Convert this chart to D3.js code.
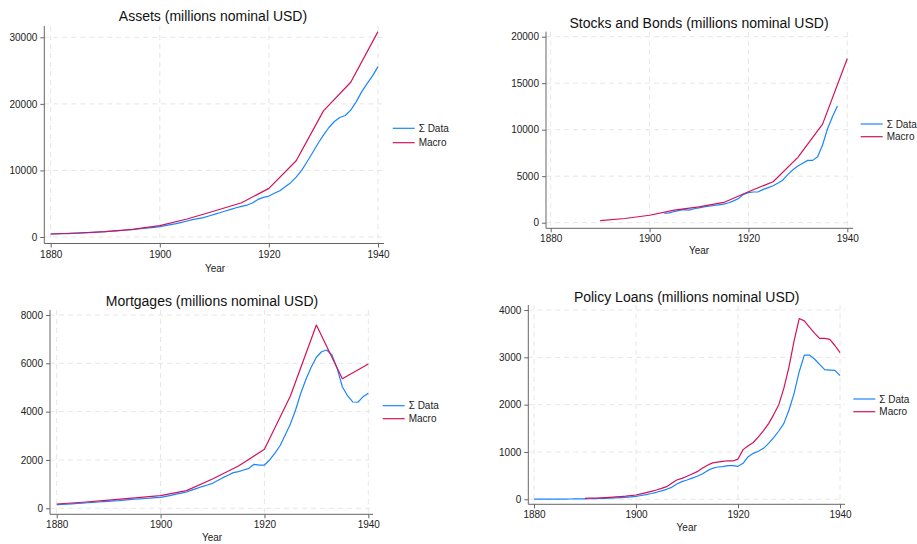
<!DOCTYPE html>
<html>
<head>
<meta charset="utf-8">
<script src="https://cdn.jsdelivr.net/npm/d3@7"></script>
<style>
  body { margin: 0; background: #fff; }
  svg { font-family: "Liberation Sans", Arial, Helvetica, sans-serif; }
  .grid line { stroke: #e6e6e6; stroke-dasharray: 5 4; }
</style>
</head>
<body>
<svg id="chart" width="917" height="544"></svg>
<script>
// Years
const yearsAll = d3.range(1880, 1941);
const years5 = d3.range(1880, 1941, 5);
const years5From1890 = d3.range(1890, 1941, 5);

// Assets (millions nominal USD)
const assetsData = [450, 470, 490, 520, 550, 580, 620, 660, 700, 750,
  800, 860, 920, 980, 1050, 1120, 1200, 1290, 1370, 1460,
  1560, 1700, 1850, 2000, 2200, 2400, 2600, 2750, 2900, 3150,
  3400, 3650, 3900, 4150, 4400, 4600, 4800, 5100, 5650, 5950,
  6150, 6560, 6960, 7560, 8160, 9000, 10000, 11300, 12650, 14050,
  15300, 16450, 17350, 17950, 18250, 19050, 20300, 21800, 23050, 24200, 25600];
const assetsMacro = [450, 600, 800, 1150, 1700, 2700, 3900, 5150, 7300, 11450, 18950, 23250, 30850];

// Stocks and Bonds
const stocksYears = d3.range(1903, 1939);
const stocksData = [1010, 1050, 1200, 1320, 1400, 1360, 1500, 1600, 1700, 1780,
  1850, 1920, 2000, 2150, 2350, 2600, 3050, 3230, 3300, 3320,
  3580, 3770, 3980, 4270, 4600, 5200, 5700, 6100, 6400, 6700,
  6700, 7100, 8350, 10100, 11400, 12550];
const stocksMacro = [215, 450, 800, 1350, 1700, 2180, 3330, 4400, 7030, 10600, 17650];

// Mortgages
const mortData = [150, 160, 170, 185, 200, 215, 230, 245, 260, 275,
  290, 305, 320, 340, 360, 375, 390, 405, 420, 440,
  455, 495, 538, 590, 630, 675, 750, 827, 900, 965,
  1034, 1150, 1268, 1370, 1475, 1516, 1585, 1655, 1820, 1790,
  1790, 2000, 2275, 2590, 3030, 3490, 4070, 4760, 5340, 5835,
  6250, 6480, 6550, 6345, 5790, 5030, 4660, 4400, 4390, 4620, 4760];
const mortMacro = [178, 250, 335, 430, 523, 730, 1212, 1750, 2440, 4650, 7585, 5365, 5970];

// Policy Loans
const loansData = [2, 2, 3, 3, 4, 4, 5, 6, 7, 8,
  10, 12, 14, 17, 21, 25, 30, 36, 42, 50,
  63, 80, 99, 122, 148, 178, 211, 253, 324, 373,
  408, 447, 486, 535, 605, 655, 683, 690, 711, 711,
  697, 760, 901, 971, 1014, 1077, 1183, 1302, 1443, 1605,
  1887, 2239, 2696, 3048, 3048, 2964, 2851, 2739, 2731, 2724, 2612];
const loansYears = d3.range(1890, 1941);
const loansMacro = [21, 25, 28, 31, 36, 42, 50, 58, 66, 78,
  91, 115, 141, 168, 197, 230, 267, 338, 408, 443,
  486, 535, 584, 655, 720, 770, 785, 800, 815, 810,
  850, 1050, 1130, 1200, 1320, 1450, 1600, 1790, 2000, 2350,
  2800, 3350, 3820, 3770, 3640, 3510, 3400, 3400, 3380, 3250, 3100];

const xTicks = [1880, 1900, 1920, 1940];
const legendLabels = ["\u03a3 Data", "Macro"];
const colors = ["#1a85ff", "#d41159"];

const panels = [
  { title: "Assets (millions nominal USD)", yTicks: [0, 10000, 20000, 30000], yMax: 30000,
    series: [[yearsAll, assetsData], [years5, assetsMacro]],
    box: [44.3, 384, 26, 243.5], xr: [50.7, 378], yr: [237, 37.3],
    titleX: 213, titleY: 21, legX: 392.7, legRows: [128.3, 142.7], yearX: 215, yearY: 272 },
  { title: "Stocks and Bonds (millions nominal USD)", yTicks: [0, 5000, 10000, 15000, 20000], yMax: 20000,
    series: [[stocksYears, stocksData], [years5From1890, stocksMacro]],
    box: [546, 853, 31.7, 228.3], xr: [550.7, 847.3], yr: [222.7, 36.7],
    titleX: 699, titleY: 28, legX: 860.7, legRows: [124, 136.7], yearX: 699, yearY: 254 },
  { title: "Mortgages (millions nominal USD)", yTicks: [0, 2000, 4000, 6000, 8000], yMax: 8000,
    series: [[yearsAll, mortData], [years5, mortMacro]],
    box: [50, 373, 310, 514.3], xr: [56.7, 368.3], yr: [508.3, 315],
    titleX: 212, titleY: 305.7, legX: 382.7, legRows: [405.7, 418.7], yearX: 212, yearY: 541.3 },
  { title: "Policy Loans (millions nominal USD)", yTicks: [0, 1000, 2000, 3000, 4000], yMax: 4000,
    series: [[yearsAll, loansData], [loansYears, loansMacro]],
    box: [528.3, 845, 305, 504.3], xr: [534, 840], yr: [499.3, 310],
    titleX: 686.7, titleY: 301.7, legX: 853.3, legRows: [399, 411.7], yearX: 686.7, yearY: 531.3 }
];

const svg = d3.select("#chart");

panels.forEach(p => {
  const [left, right, top, bottom] = p.box;
  const x = d3.scaleLinear().domain([1880, 1940]).range(p.xr);
  const y = d3.scaleLinear().domain([0, p.yMax]).range(p.yr);
  const g = svg.append("g");

  // gridlines
  const grid = g.append("g").attr("class", "grid");
  grid.selectAll(".gy").data(p.yTicks).join("line")
    .attr("x1", left).attr("x2", right)
    .attr("y1", d => y(d)).attr("y2", d => y(d));
  grid.selectAll(".gx").data(xTicks).join("line")
    .attr("x1", d => x(d)).attr("x2", d => x(d))
    .attr("y1", top).attr("y2", bottom);

  // axes
  const yAxis = g.append("g").attr("transform", `translate(${left},0)`)
    .call(d3.axisLeft(y).tickValues(p.yTicks).tickFormat(d3.format("d")).tickSize(4).tickPadding(3));
  const xAxis = g.append("g").attr("transform", `translate(0,${bottom})`)
    .call(d3.axisBottom(x).tickValues(xTicks).tickFormat(d3.format("d")).tickSize(4).tickPadding(3));
  [yAxis, xAxis].forEach(a => {
    a.select(".domain").remove();
    a.selectAll("line").attr("stroke", "#666");
    a.selectAll("text").attr("fill", "#222").style("font-size", "10px")
      .style("font-family", "'Liberation Sans', Arial, sans-serif");
  });
  g.append("line").attr("x1", left).attr("x2", left).attr("y1", top).attr("y2", bottom)
    .attr("stroke", "#666");
  g.append("line").attr("x1", left).attr("x2", right).attr("y1", bottom).attr("y2", bottom)
    .attr("stroke", "#666");

  // lines
  const line = d3.line().x(d => x(d[0])).y(d => y(d[1]));
  p.series.forEach(([yrs, vals], i) => {
    g.append("path")
      .datum(yrs.map((yr, k) => [yr, vals[k]]))
      .attr("fill", "none")
      .attr("stroke", colors[i])
      .attr("stroke-width", 1.2)
      .attr("stroke-linejoin", "round")
      .attr("d", line);
  });

  // title
  g.append("text").attr("x", p.titleX).attr("y", p.titleY)
    .attr("text-anchor", "middle").style("font-size", "14px").attr("fill", "#111")
    .text(p.title);

  // axis title
  g.append("text").attr("x", p.yearX).attr("y", p.yearY)
    .attr("text-anchor", "middle").style("font-size", "10px").attr("fill", "#222")
    .text("Year");

  // legend
  legendLabels.forEach((lab, i) => {
    const ly = p.legRows[i];
    g.append("line").attr("x1", p.legX).attr("x2", p.legX + 22)
      .attr("y1", ly).attr("y2", ly).attr("stroke", colors[i]).attr("stroke-width", 1.2);
    g.append("text").attr("x", p.legX + 26).attr("y", ly + 3.5)
      .style("font-size", "10px").attr("fill", "#222").text(lab);
  });
});
</script>
</body>
</html>
